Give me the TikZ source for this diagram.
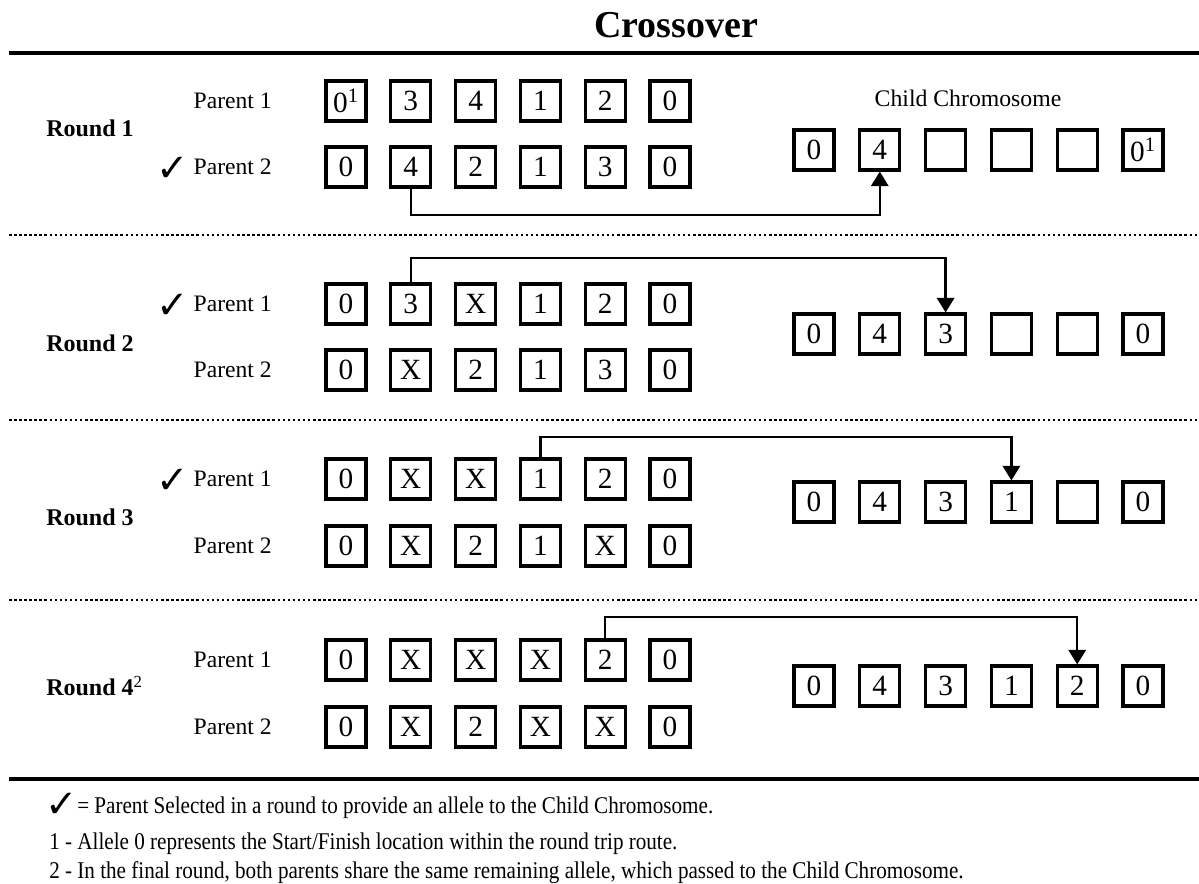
\documentclass[tikz,border=0pt]{standalone}
\usepackage{fontspec}
\setmainfont{Liberation Serif}
\newfontfamily\notefont[FakeStretch=0.88]{Liberation Serif}
\newfontfamily\tickfont{DejaVu Sans}
\usetikzlibrary{arrows.meta, calc}

% one row of six alleles: name, first x, step, y, values
\newcommand{\allelerow}[5]{%
  \foreach \v [count=\i] in {#5}
    \node[gene] (#1\i) at ({#2+(\i-1)*#3},#4) {\v};
}

\begin{document}
\begin{tikzpicture}[x=0.75pt, y=-0.75pt,
    gene/.style={draw, line width=2.3pt, minimum width=30pt, minimum height=30pt,
      inner sep=0pt, font=\fontsize{22}{22}\selectfont},
    parlbl/.style={anchor=east, inner sep=0pt, font=\fontsize{17.7}{20}\selectfont},
    rndlbl/.style={anchor=west, inner sep=0pt, font=\fontsize{18}{20}\selectfont\bfseries},
    tick/.style={inner sep=0pt, font=\tickfont\fontsize{29}{29}\selectfont},
    note/.style={anchor=base west, inner sep=0pt, font=\notefont\fontsize{18}{20}\selectfont},
    rule/.style={line width=2.3pt},
    sep/.style={line width=1.9pt, dash pattern=on 1.9pt off 1.9pt},
    pass/.style={line width=1.9pt, -{Triangle[length=11pt,width=13pt]}}]
  \useasboundingbox (0,0) rectangle (1199,883);

  % Title and rules
  \node[anchor=base, inner sep=0pt, font=\fontsize{28.5}{30}\selectfont\bfseries]
    (ttl) at (676,37) {Crossover};
  \draw[rule] (9,53) -- (1199,53);
  \draw[sep] (9,235) -- (1199,235);
  \draw[sep] (9,420) -- (1199,420);
  \draw[sep] (9,600) -- (1199,600);
  \draw[rule] (9,779) -- (1199,779);

  % Round 1
  \node[rndlbl] (rnd1) at (46,128) {Round 1};
  \node[parlbl] (lbl1p) at (272,101) {Parent 1};
  \node[parlbl] (lbl1q) at (272,167) {Parent 2};
  \node[tick] (tick1) at (173,169) {✓};
  \allelerow{r1p}{346}{64.8}{101}{0\textsuperscript{1},3,4,1,2,0}
  \allelerow{r1q}{346}{64.8}{167}{0,4,2,1,3,0}
  \node[inner sep=0pt, font=\fontsize{17.8}{20}\selectfont] (chl) at (968,98) {Child Chromosome};
  \allelerow{r1c}{814}{65.8}{150}{0,4,{},{},{},0\textsuperscript{1}}
  \coordinate (k1) at (0,215);
  \draw[pass] (r1q2.south) -- (r1q2.south |- k1) -| (r1c2.south);

  % Round 2
  \node[rndlbl] (rnd2) at (46,343) {Round 2};
  \node[parlbl] (lbl2p) at (272,304) {Parent 1};
  \node[parlbl] (lbl2q) at (272,370) {Parent 2};
  \node[tick] (tick2) at (173,306) {✓};
  \allelerow{r2p}{346}{64.8}{304}{0,3,X,1,2,0}
  \allelerow{r2q}{346}{64.8}{370}{0,X,2,1,3,0}
  \allelerow{r2c}{814}{65.8}{334}{0,4,3,{},{},0}
  \coordinate (k2) at (0,258);
  \draw[pass] (r2p2.north) -- (r2p2.north |- k2) -| (r2c3.north);

  % Round 3
  \node[rndlbl] (rnd3) at (46,517) {Round 3};
  \node[parlbl] (lbl3p) at (272,479) {Parent 1};
  \node[parlbl] (lbl3q) at (272,546) {Parent 2};
  \node[tick] (tick3) at (173,481) {✓};
  \allelerow{r3p}{346}{64.8}{479}{0,X,X,1,2,0}
  \allelerow{r3q}{346}{64.8}{546}{0,X,2,1,X,0}
  \allelerow{r3c}{814}{65.8}{502}{0,4,3,1,{},0}
  \coordinate (k3) at (0,437);
  \draw[pass] (r3p4.north) -- (r3p4.north |- k3) -| (r3c4.north);

  % Round 4
  \node[rndlbl] (rnd4) at (46,686) {Round 4\textsuperscript{\mdseries 2}};
  \node[parlbl] (lbl4p) at (272,660) {Parent 1};
  \node[parlbl] (lbl4q) at (272,727) {Parent 2};
  \allelerow{r4p}{346}{64.8}{660}{0,X,X,X,2,0}
  \allelerow{r4q}{346}{64.8}{727}{0,X,2,X,X,0}
  \allelerow{r4c}{814}{65.8}{686}{0,4,3,1,2,0}
  \coordinate (k4) at (0,617);
  \draw[pass] (r4p5.north) -- (r4p5.north |- k4) -| (r4c5.north);

  % Notes
  \node[tick] (tick0) at (62,805) {✓};
  \node[note] (n1) at (77,813) {= Parent Selected in a round to provide an allele to the Child Chromosome.};
  \node[note] (n2) at (49,849) {1 - Allele 0 represents the Start/Finish location within the round trip route.};
  \node[note] (n3) at (49,878) {2 - In the final round, both parents share the same remaining allele, which passed to the Child Chromosome.};
\end{tikzpicture}
\end{document}
